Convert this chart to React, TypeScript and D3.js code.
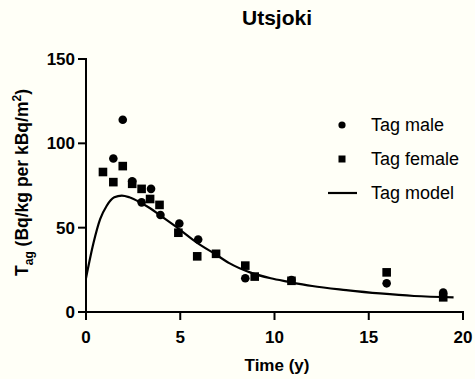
import React from 'react';
import * as d3 from 'd3';

const maleTime = [1.45, 1.95, 2.45, 2.95, 3.45, 3.95, 4.95, 5.95, 8.45, 10.9, 15.95, 18.95];
const maleValue = [91, 114, 77.5, 65, 73, 57.5, 52.5, 43, 20, 19, 17, 11.5];

const femaleTime = [0.9, 1.45, 1.95, 2.45, 2.95, 3.4, 3.9, 4.9, 5.9, 6.9, 8.45, 8.95, 10.9, 15.95, 18.95];
const femaleValue = [83, 77, 86.5, 76, 73, 67, 63.5, 47, 33, 34.5, 27.5, 21, 18.5, 23.5, 8.7];

const modelTime = [0, 0.4, 0.75, 1.1, 1.5, 1.9, 2.3, 2.9, 3.4, 3.9, 4.9, 5.9, 6.9, 7.6, 8.7, 9.8, 10.7, 12, 13.8, 15.6, 17.4, 19.5];
const modelValue = [20, 41, 55, 63, 68, 69, 68, 64.8, 61.5, 57.5, 49.5, 41, 34, 29, 23.5, 20, 18, 15.4, 13, 11, 9.5, 8.7];

const xTicks = [0, 5, 10, 15, 20];
const yTicks = [0, 50, 100, 150];

const W = 475;
const H = 379;
const font = '"Liberation Sans", Arial, sans-serif';

export default function App() {
  const x = d3.scaleLinear().domain([0, 20]).range([86, 463]);
  const y = d3.scaleLinear().domain([0, 150]).range([312, 59]);

  const line = d3
    .line<number>()
    .x((_, i) => x(modelTime[i]))
    .y((d) => y(d))
    .curve(d3.curveMonotoneX);

  return (
    <svg width={W} height={H} style={{ position: 'absolute', left: 0, top: 0, background: '#fffff7' }} fontFamily={font}>
      <rect width={W} height={H} fill="#fffff7" />
      <text x={277} y={25} textAnchor="middle" fontSize={21} fontWeight="bold">Utsjoki</text>

      {/* axes */}
      <line x1={x(0)} x2={x(0)} y1={y(150) - 1} y2={y(0) + 1} stroke="#000" strokeWidth={2} />
      <line x1={x(0) - 1} x2={x(20) + 1} y1={y(0)} y2={y(0)} stroke="#000" strokeWidth={2} />
      {yTicks.map((t) => (
        <g key={'y' + t}>
          <line x1={x(0) - 8} x2={x(0)} y1={y(t)} y2={y(t)} stroke="#000" strokeWidth={2} />
          <text x={x(0) - 11} y={y(t)} dy="0.36em" textAnchor="end" fontSize={17} fontWeight="bold">{t}</text>
        </g>
      ))}
      {xTicks.map((t) => (
        <g key={'x' + t}>
          <line x1={x(t)} x2={x(t)} y1={y(0)} y2={y(0) + 8} stroke="#000" strokeWidth={2} />
          <text x={x(t)} y={343} textAnchor="middle" fontSize={17} fontWeight="bold">{t}</text>
        </g>
      ))}
      <text x={277} y={371} textAnchor="middle" fontSize={17} fontWeight="bold">Time (y)</text>
      <text transform={`translate(28,${(y(0) + y(150)) / 2 - 3}) rotate(-90)`} textAnchor="middle" fontSize={17.5} fontWeight="bold">
        T<tspan fontSize={12} dy={5}>ag</tspan>
        <tspan dy={-5}> (Bq/kg per kBq/m</tspan>
        <tspan fontSize={12} dy={-7}>2</tspan>
        <tspan dy={7}>)</tspan>
      </text>

      {/* model */}
      <path d={line(modelValue) || ''} fill="none" stroke="#000" strokeWidth={2.2} />

      {/* data */}
      {maleValue.map((v, i) => (
        <circle key={'m' + i} cx={x(maleTime[i])} cy={y(v)} r={4.3} fill="#000" />
      ))}
      {femaleValue.map((v, i) => (
        <rect key={'f' + i} x={x(femaleTime[i]) - 4.3} y={y(v) - 4.3} width={8.6} height={8.6} fill="#000" />
      ))}

      {/* legend */}
      <circle cx={342} cy={125} r={3.6} fill="#000" />
      <text x={371} y={125} dy="0.36em" fontSize={18}>Tag male</text>
      <rect x={338.5} y={155.5} width={7} height={7} fill="#000" />
      <text x={371} y={159} dy="0.36em" fontSize={18}>Tag female</text>
      <line x1={328} x2={357} y1={193} y2={193} stroke="#000" strokeWidth={2.2} />
      <text x={371} y={193} dy="0.36em" fontSize={18}>Tag model</text>
    </svg>
  );
}
